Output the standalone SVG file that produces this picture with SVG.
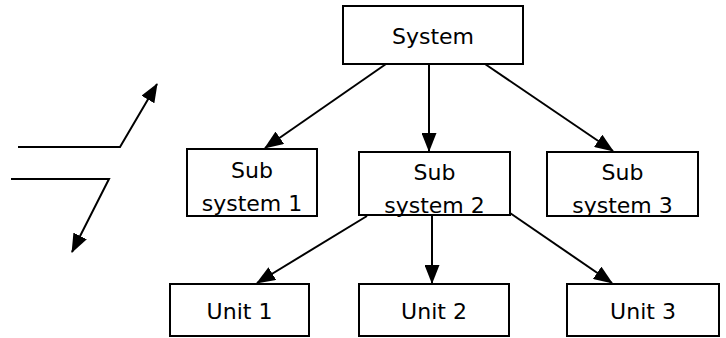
<svg xmlns="http://www.w3.org/2000/svg" width="726" height="338" viewBox="0 0 726 338">
<style>
.box{fill:#fff;stroke:#000;stroke-width:2}
.lbl{font-family:"DejaVu Sans",sans-serif;font-size:22px;fill:#000;text-anchor:middle}
.con{fill:none;stroke:#000;stroke-width:2;marker-end:url(#ah)}
</style>
<defs>
<marker id="ah" markerUnits="userSpaceOnUse" markerWidth="19" markerHeight="15" refX="18" refY="7.5" orient="auto">
<path d="M0,0 L19,7.5 L0,15 z" fill="#000"/>
</marker>
</defs>
<g id="connectors">
<path class="con" d="M386,64 L265,148"/>
<path class="con" d="M429,64 L429,151"/>
<path class="con" d="M485,64 L613,151"/>
<path class="con" d="M367,216 L257,283"/>
<path class="con" d="M432,215 L432,283"/>
<path class="con" d="M510,213 L612,283"/>
<path class="con" d="M18,147 L120,147 L157,84"/>
<path class="con" d="M11,179 L109,179 L72,252"/>
</g>
<g id="system">
<rect class="box" x="343" y="6" width="180" height="58"/>
<text class="lbl" x="433" y="44">System</text>
</g>
<g id="sub1">
<rect class="box" x="187" y="149" width="130" height="67"/>
<text class="lbl" x="252" y="178">Sub</text>
<text class="lbl" x="252" y="211">system 1</text>
</g>
<g id="sub2">
<rect class="box" x="359" y="152" width="151" height="63"/>
<text class="lbl" x="434.5" y="180">Sub</text>
<text class="lbl" x="434.5" y="213">system 2</text>
</g>
<g id="sub3">
<rect class="box" x="547" y="152" width="151" height="64"/>
<text class="lbl" x="622.5" y="180">Sub</text>
<text class="lbl" x="622.5" y="213">system 3</text>
</g>
<g id="unit1">
<rect class="box" x="170" y="284" width="139" height="52"/>
<text class="lbl" x="239.5" y="319">Unit 1</text>
</g>
<g id="unit2">
<rect class="box" x="359" y="284" width="150" height="52"/>
<text class="lbl" x="434" y="319">Unit 2</text>
</g>
<g id="unit3">
<rect class="box" x="567" y="284" width="152" height="52"/>
<text class="lbl" x="643" y="319">Unit 3</text>
</g>
</svg>
